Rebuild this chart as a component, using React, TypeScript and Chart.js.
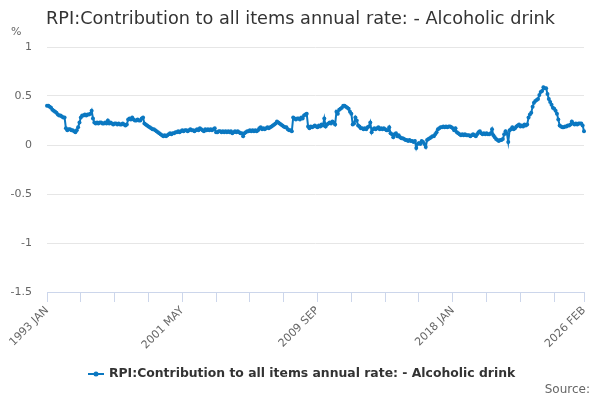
import React, { useEffect, useRef } from "react";
import { Chart, registerables } from "chart.js";

Chart.register(...registerables);

const TITLE = "RPI:Contribution to all items annual rate: - Alcoholic drink";
const SERIES_NAME = "RPI:Contribution to all items annual rate: - Alcoholic drink";
const LINE_COLOR = "#0b78c1";

const MONTHS = ["JAN", "FEB", "MAR", "APR", "MAY", "JUN", "JUL", "AUG", "SEP", "OCT", "NOV", "DEC"];
const FIRST_YEAR = 1993;

// monthly values, one row per year (1993 JAN .. 2026 FEB)
const contribution = [
  0.40, 0.40, 0.39, 0.38, 0.36, 0.35, 0.34, 0.33, 0.31, 0.30, 0.30, 0.29, // 1993
  0.28, 0.28, 0.17, 0.15, 0.16, 0.16, 0.15, 0.15, 0.14, 0.13, 0.15, 0.18, // 1994
  0.23, 0.28, 0.30, 0.30, 0.31, 0.30, 0.31, 0.31, 0.32, 0.35, 0.27, 0.23, // 1995
  0.22, 0.23, 0.22, 0.23, 0.23, 0.22, 0.22, 0.23, 0.22, 0.25, 0.22, 0.23, // 1996
  0.22, 0.21, 0.22, 0.22, 0.21, 0.22, 0.21, 0.21, 0.22, 0.21, 0.20, 0.21, // 1997
  0.26, 0.27, 0.26, 0.28, 0.26, 0.25, 0.25, 0.26, 0.25, 0.25, 0.27, 0.28, // 1998
  0.22, 0.21, 0.20, 0.19, 0.18, 0.17, 0.16, 0.16, 0.15, 0.14, 0.13, 0.12, // 1999
  0.11, 0.10, 0.09, 0.10, 0.09, 0.10, 0.11, 0.12, 0.11, 0.12, 0.12, 0.13, // 2000
  0.13, 0.14, 0.13, 0.14, 0.15, 0.14, 0.15, 0.15, 0.14, 0.15, 0.16, 0.15, // 2001
  0.15, 0.14, 0.15, 0.16, 0.15, 0.17, 0.16, 0.15, 0.14, 0.16, 0.15, 0.16, // 2002
  0.15, 0.16, 0.15, 0.16, 0.17, 0.13, 0.13, 0.14, 0.14, 0.13, 0.14, 0.13, // 2003
  0.14, 0.13, 0.14, 0.13, 0.14, 0.12, 0.13, 0.14, 0.13, 0.14, 0.13, 0.12, // 2004
  0.12, 0.09, 0.12, 0.13, 0.14, 0.14, 0.15, 0.14, 0.15, 0.14, 0.15, 0.14, // 2005
  0.15, 0.17, 0.18, 0.16, 0.17, 0.16, 0.17, 0.18, 0.17, 0.18, 0.19, 0.20, // 2006
  0.21, 0.22, 0.24, 0.23, 0.22, 0.21, 0.20, 0.19, 0.18, 0.18, 0.16, 0.15, // 2007
  0.15, 0.14, 0.28, 0.27, 0.26, 0.27, 0.27, 0.26, 0.28, 0.27, 0.30, 0.31, // 2008
  0.32, 0.19, 0.17, 0.19, 0.18, 0.19, 0.20, 0.19, 0.18, 0.20, 0.19, 0.21, // 2009
  0.20, 0.27, 0.19, 0.21, 0.22, 0.23, 0.22, 0.24, 0.23, 0.21, 0.34, 0.32, // 2010
  0.36, 0.37, 0.38, 0.40, 0.40, 0.39, 0.38, 0.37, 0.34, 0.32, 0.21, 0.22, // 2011
  0.28, 0.25, 0.20, 0.19, 0.17, 0.17, 0.16, 0.17, 0.16, 0.18, 0.19, 0.23, // 2012
  0.13, 0.16, 0.17, 0.16, 0.17, 0.18, 0.16, 0.17, 0.16, 0.17, 0.16, 0.15, // 2013
  0.15, 0.18, 0.12, 0.11, 0.08, 0.11, 0.12, 0.09, 0.10, 0.08, 0.07, 0.07, // 2014
  0.06, 0.05, 0.05, 0.04, 0.05, 0.04, 0.04, 0.03, 0.04, -0.03, 0.01, 0.02, // 2015
  0.01, 0.04, 0.03, 0.01, -0.02, 0.05, 0.06, 0.07, 0.08, 0.09, 0.09, 0.11, // 2016
  0.13, 0.16, 0.17, 0.18, 0.18, 0.19, 0.18, 0.19, 0.18, 0.19, 0.19, 0.18, // 2017
  0.17, 0.15, 0.17, 0.13, 0.12, 0.11, 0.10, 0.11, 0.10, 0.11, 0.10, 0.10, // 2018
  0.10, 0.09, 0.10, 0.11, 0.10, 0.09, 0.11, 0.13, 0.14, 0.12, 0.11, 0.12, // 2019
  0.11, 0.12, 0.11, 0.11, 0.12, 0.16, 0.10, 0.08, 0.06, 0.05, 0.04, 0.05, // 2020
  0.05, 0.06, 0.11, 0.14, 0.12, 0.03, 0.15, 0.16, 0.18, 0.16, 0.17, 0.19, // 2021
  0.20, 0.21, 0.19, 0.20, 0.19, 0.21, 0.20, 0.21, 0.28, 0.31, 0.33, 0.39, // 2022
  0.43, 0.45, 0.46, 0.47, 0.51, 0.54, 0.55, 0.59, 0.58, 0.58, 0.52, 0.47, // 2023
  0.44, 0.41, 0.38, 0.37, 0.35, 0.32, 0.26, 0.20, 0.19, 0.18, 0.18, 0.19, // 2024
  0.19, 0.20, 0.20, 0.21, 0.24, 0.22, 0.21, 0.22, 0.21, 0.22, 0.22, 0.22, // 2025
  0.20, 0.14, // 2026
];

const labels = contribution.map(
  (_, i) => `${FIRST_YEAR + Math.floor(i / 12)} ${MONTHS[i % 12]}`
);

// tick marks every 25 months, a label every 100 months and on the last month
const TICK_STEP = 25;
const LABEL_STEP = 100;

const yTicks = { min: -1.5, max: 1, step: 0.5 };

const FONT = "'DejaVu Sans', Verdana, sans-serif";

const decorPlugin = {
  id: "decor",
  afterDraw(chart: Chart) {
    const ctx = chart.ctx;
    ctx.save();
    // title
    ctx.fillStyle = "#333333";
    ctx.font = `17.7px ${FONT}`;
    ctx.textAlign = "left";
    ctx.textBaseline = "alphabetic";
    ctx.fillText(TITLE, 46, 24);
    // unit
    ctx.fillStyle = "#666666";
    ctx.font = `11px ${FONT}`;
    ctx.textBaseline = "middle";
    ctx.fillText("%", 11, 32);
    // legend
    const ly = 374;
    ctx.strokeStyle = LINE_COLOR;
    ctx.lineWidth = 2;
    ctx.beginPath();
    ctx.moveTo(88, ly);
    ctx.lineTo(104, ly);
    ctx.stroke();
    ctx.fillStyle = LINE_COLOR;
    ctx.beginPath();
    ctx.arc(96, ly, 2.5, 0, Math.PI * 2);
    ctx.fill();
    ctx.fillStyle = "#333333";
    ctx.font = `bold 12.4px ${FONT}`;
    ctx.fillText(SERIES_NAME, 109, ly);
    // source
    ctx.fillStyle = "#666666";
    ctx.font = `12px ${FONT}`;
    ctx.textAlign = "right";
    ctx.fillText("Source:", 590, 390);
    ctx.restore();
  },
};

export default function App() {
  const canvasRef = useRef<HTMLCanvasElement | null>(null);

  useEffect(() => {
    document.body.style.margin = "0";
    if (!canvasRef.current) return;
    const last = labels.length - 1;
    const chart = new Chart(canvasRef.current, {
      type: "line",
      data: {
        labels,
        datasets: [
          {
            label: SERIES_NAME,
            data: contribution,
            borderColor: LINE_COLOR,
            backgroundColor: LINE_COLOR,
            borderWidth: 2,
            pointRadius: 2,
            pointHoverRadius: 3,
            pointBorderWidth: 0,
            tension: 0,
          },
        ],
      },
      options: {
        animation: false,
        responsive: true,
        maintainAspectRatio: false,
        layout: { padding: { top: 47, right: 16, bottom: 48, left: 0 } },
        plugins: {
          legend: { display: false },
          title: { display: false },
          tooltip: { enabled: false },
        },
        scales: {
          x: {
            type: "category",
            afterFit: (scale: any) => {
              scale.height = 60;
            },
            grid: {
              display: true,
              drawOnChartArea: false,
              drawTicks: true,
              tickLength: 10,
              color: "#ccd6eb",
            },
            border: { display: true, color: "#ccd6eb", width: 1 },
            ticks: {
              autoSkip: false,
              maxRotation: 45,
              minRotation: 45,
              padding: 2,
              color: "#666666",
              font: { family: FONT, size: 11 },
              callback: (_v: any, i: number) => {
                if (i === last || i % LABEL_STEP === 0) return labels[i];
                if (i % TICK_STEP === 0) return "";
                return null;
              },
            },
          },
          y: {
            min: yTicks.min,
            max: yTicks.max,
            afterFit: (scale: any) => {
              scale.width = 47;
            },
            grid: { color: "#e6e6e6", drawTicks: false },
            border: { display: false },
            ticks: {
              stepSize: yTicks.step,
              padding: 15,
              color: "#666666",
              font: { family: FONT, size: 11 },
              callback: (v: any) => String(Number(v)),
            },
          },
        },
      },
      plugins: [decorPlugin],
    });
    return () => chart.destroy();
  }, []);

  return (
    <div style={{ position: "relative", width: 600, height: 400, background: "#ffffff" }}>
      <canvas ref={canvasRef} />
    </div>
  );
}
